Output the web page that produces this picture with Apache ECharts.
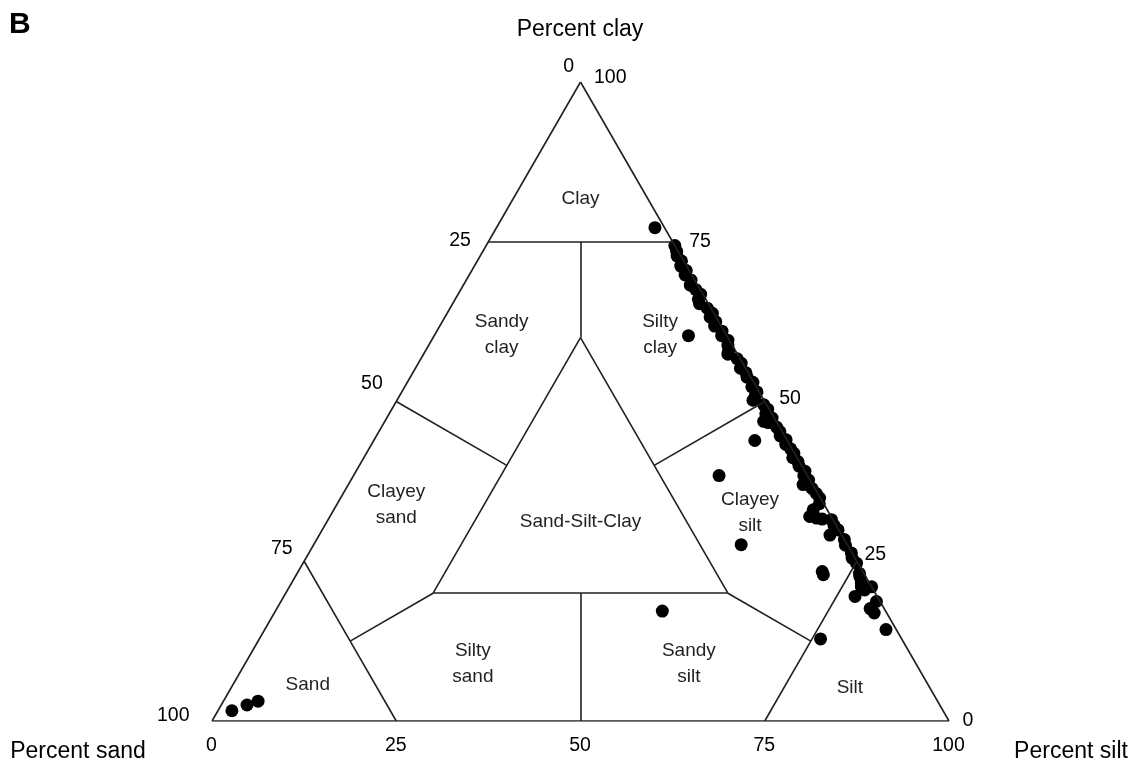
<!DOCTYPE html>
<html>
<head>
<meta charset="utf-8">
<script src="https://cdn.jsdelivr.net/npm/echarts@6/dist/echarts.min.js"></script>
<style>
html,body{margin:0;padding:0;background:#fff;}
#chart{width:1137px;height:770px;}
</style>
</head>
<body>
<div id="chart"></div>
<script>
// ---- sample compositions (percent) ----
const sampleClay = [
  77.2, 74.4, 60.3, 43.9, 38.4, 27.6, 23.4, 22.9, 17.2, 14.3, 12.85,
  1.6, 2.5, 3.1,
  73.5, 72.8, 72.0, 71.2, 70.5, 69.8, 69.0, 68.2, 67.5, 66.8, 66.0, 65.3,
  64.6, 63.8, 63.2, 62.5, 61.8, 61.0, 60.3, 59.6, 58.8, 58.0, 57.4, 56.7,
  56.0, 55.2, 54.5, 53.8, 53.0, 52.3, 51.5, 50.8, 50.2, 49.5, 48.8, 48.1,
  47.4, 46.9, 46.7, 46.0, 45.3, 44.6, 44.0, 43.3, 42.6, 41.9, 41.2, 40.6,
  39.9, 39.1, 38.4, 37.7, 37.0, 36.4, 35.6, 34.9, 34.0, 33.05, 32.0, 31.75,
  31.6, 31.5, 30.6, 29.9, 29.1, 28.4, 27.5, 26.3, 25.5, 24.7, 23.1, 22.6,
  21.6, 21.0, 21.0, 20.5, 19.5, 18.7, 17.6, 16.9
];
const sampleSand = [
  1.3, 0.0, 5.2, 4.4, 12.0, 14.4, 5.5, 5.6, 30.3, 1.4, 11.0,
  96.5, 94.0, 92.2,
  0.2, 0.5, 0.3, 0.8, 0.4, 0.9, 0.5, 1.0, 0.6, 0.3, 1.0, 1.2,
  0.5, 0.2, 0.8, 0.4, 0.9, 0.3, 0.7, 0.2, 0.6, 0.9, 1.3, 0.4,
  0.2, 0.7, 0.3, 0.5, 0.1, 0.6, 0.3, 0.9, 1.5, 0.4, 0.2, 0.8,
  0.3, 1.7, 1.2, 0.4, 0.3, 0.6, 0.1, 0.5, 0.2, 0.1, 0.6, 0.2,
  0.4, 0.0, 0.5, 0.2, 1.3, 0.4, 0.2, 0.1, 0.6, 1.9, 2.9, 2.1,
  1.4, 0.2, 0.3, 0.1, 1.6, 0.0, 0.3, 0.1, 0.4, 0.2, 0.6, 0.8,
  1.1, 1.4, 0.0, 1.2, 3.0, 0.5, 1.9, 1.7
];

// ---- Shepard classification boundaries: [sand, silt, clay] endpoints ----
const boundaryLines = [
  [[100, 0, 0], [0, 100, 0]],
  [[100, 0, 0], [0, 0, 100]],
  [[0, 100, 0], [0, 0, 100]],
  [[25, 0, 75], [0, 25, 75]],
  [[12.5, 12.5, 75], [20, 20, 60]],
  [[20, 20, 60], [60, 20, 20]],
  [[60, 20, 20], [20, 60, 20]],
  [[20, 60, 20], [20, 20, 60]],
  [[50, 0, 50], [40, 20, 40]],
  [[0, 50, 50], [20, 40, 40]],
  [[60, 20, 20], [75, 12.5, 12.5]],
  [[75, 12.5, 12.5], [75, 0, 25]],
  [[75, 12.5, 12.5], [75, 25, 0]],
  [[20, 60, 20], [12.5, 75, 12.5]],
  [[12.5, 75, 12.5], [0, 75, 25]],
  [[12.5, 75, 12.5], [25, 75, 0]],
  [[40, 40, 20], [50, 50, 0]]
];

// ---- class names and their label anchor compositions ----
const classNames = ['Clay', 'Sandy\nclay', 'Silty\nclay', 'Clayey\nsand', 'Sand-Silt-Clay',
                    'Clayey\nsilt', 'Sand', 'Silty\nsand', 'Sandy\nsilt', 'Silt'];
const classAnchors = [
  [9, 9, 82], [30.3, 8.9, 60.8], [8.8, 30.4, 60.8], [57.9, 7.9, 34.2], [34.25, 34.25, 31.5],
  [10.55, 56.55, 32.9], [84, 10, 6], [60, 30.8, 9.2], [30.7, 60.1, 9.2], [10.7, 83.8, 5.5]
];

// ---- tick labels ----
const tickValues = [0, 25, 50, 75, 100];

const SQ = Math.sqrt(3) / 2;
function tern(sand, silt, clay) {
  return [silt + clay / 2, clay * SQ];
}

const points = sampleClay.map((c, i) => {
  const s = sampleSand[i];
  return tern(s, 100 - s - c, c);
});

const lineData = boundaryLines.map(seg => ({
  coords: [tern(seg[0][0], seg[0][1], seg[0][2]), tern(seg[1][0], seg[1][1], seg[1][2])]
}));

const classData = classNames.map((n, i) => ({
  value: tern(classAnchors[i][0], classAnchors[i][1], classAnchors[i][2]),
  name: n
}));

// bottom edge: silt percent, left edge: sand percent, right edge: clay percent
const leftOff = {100: [-22, -5, 'right'], 75: [-11, -12, 'right'], 50: [-13, -17, 'right'], 25: [-17, -1, 'right'], 0: [-6, -15, 'right']};
const rightOff = {100: [14, -4, 'left'], 75: [17, 0, 'left'], 50: [15, -2, 'left'], 25: [8, -6, 'left'], 0: [14, 0, 'left']};

const tickData = [];
tickValues.forEach(v => {
  tickData.push({value: tern(100 - v, v, 0), name: String(v),
    label: {position: [0, 25], align: 'center'}});
  const lo = leftOff[v];
  tickData.push({value: tern(v, 0, 100 - v), name: String(v),
    label: {position: [lo[0], lo[1]], align: lo[2]}});
  const ro = rightOff[v];
  tickData.push({value: tern(0, 100 - v, v), name: String(v),
    label: {position: [ro[0], ro[1]], align: ro[2]}});
});

const chart = echarts.init(document.getElementById('chart'), null, {renderer: 'canvas'});
const FONT = '"Liberation Sans", Arial, Helvetica, sans-serif';
chart.setOption({
  backgroundColor: '#ffffff',
  animation: false,
  grid: {left: 212, right: 188, top: 82, bottom: 49, containLabel: false},
  xAxis: {type: 'value', min: 0, max: 100, show: false},
  yAxis: {type: 'value', min: 0, max: 100 * SQ, show: false},
  graphic: [
    {type: 'text', left: 9, top: 10, style: {text: 'B', font: 'bold 30px ' + FONT, fill: '#000'}},
    {type: 'text', x: 580, y: 30, style: {text: 'Percent clay', font: '23px ' + FONT, fill: '#000', align: 'center', verticalAlign: 'middle'}},
    {type: 'text', x: 78, y: 752, style: {text: 'Percent sand', font: '23px ' + FONT, fill: '#000', align: 'center', verticalAlign: 'middle'}},
    {type: 'text', x: 1071, y: 752, style: {text: 'Percent silt', font: '23px ' + FONT, fill: '#000', align: 'center', verticalAlign: 'middle'}}
  ],
  series: [
    {
      type: 'scatter',
      z: 2,
      symbol: 'circle',
      symbolSize: 13,
      itemStyle: {color: '#000000', opacity: 1},
      data: points,
      silent: true
    },
    {
      type: 'lines',
      coordinateSystem: 'cartesian2d',
      z: 3,
      polyline: false,
      lineStyle: {color: '#231f20', width: 1.6, opacity: 1},
      data: lineData,
      silent: true
    },
    {
      type: 'scatter',
      z: 4,
      symbolSize: 1,
      itemStyle: {color: 'rgba(0,0,0,0)', opacity: 1},
      data: classData,
      silent: true,
      label: {
        show: true, position: 'inside', offset: [0, 2], formatter: p => p.name, opacity: 1,
        fontFamily: FONT, fontSize: 19, color: '#231f20', lineHeight: 26, align: 'center', verticalAlign: 'middle'
      }
    },
    {
      type: 'scatter',
      z: 4,
      symbolSize: 1,
      itemStyle: {color: 'rgba(0,0,0,0)', opacity: 1},
      data: tickData,
      silent: true,
      label: {
        show: true, formatter: p => p.name, opacity: 1,
        fontFamily: FONT, fontSize: 19.5, color: '#000', verticalAlign: 'middle'
      }
    }
  ]
});
</script>
</body>
</html>
